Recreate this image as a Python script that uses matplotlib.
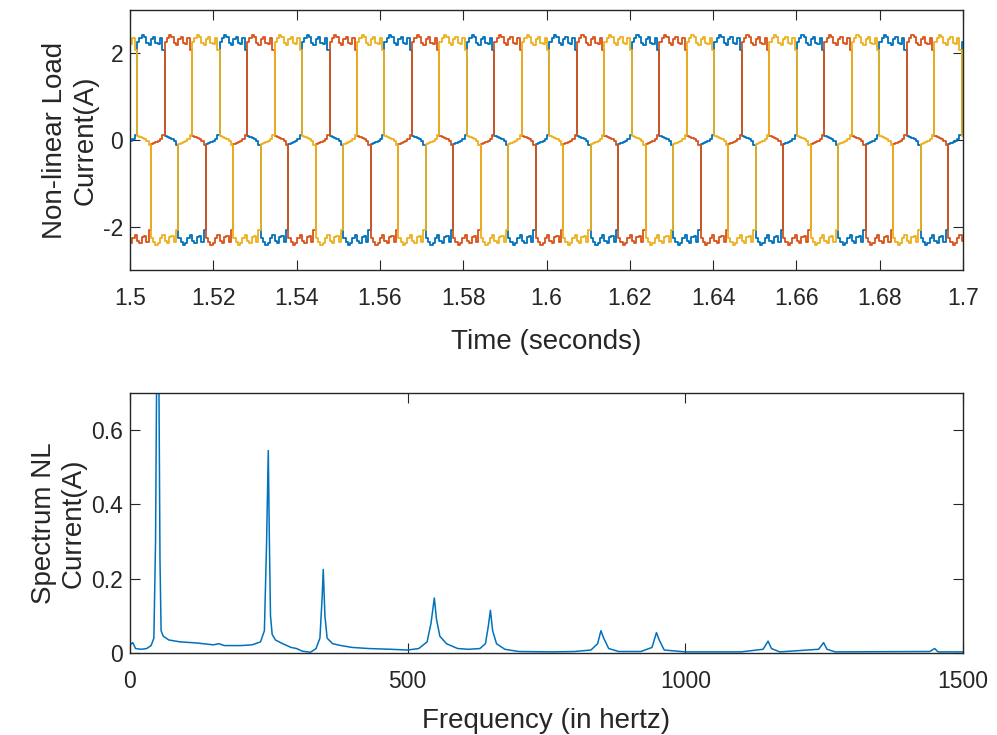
import matplotlib
matplotlib.use("Agg")
import matplotlib.pyplot as plt
import numpy as np

# ---- data -----------------------------------------------------------------
# one 50 Hz period of a phase current, one value per 10 degrees, starting at
# the rising edge of the positive conduction block
PERIOD_SHAPE = [
    2.27, 2.35, 2.42, 2.38, 2.25, 2.19, 2.32, 2.38, 2.24, 2.22, 2.36, 2.08,
    0.10, 0.08, 0.04, 0.02, -0.03, -0.12,
    -2.27, -2.35, -2.42, -2.38, -2.25, -2.19, -2.32, -2.38, -2.24, -2.22, -2.36, -2.08,
    -0.10, -0.08, -0.04, -0.02, 0.03, 0.12,
]
PERIOD_S = 0.0198            # measured spacing of the blue rising edges
FIRST_EDGE_S = 1.4819        # a blue rising edge just before the window
PHASE_LAG_STEPS = [0, 12, 24]  # blue, orange, yellow (0, 120, 240 degrees)
PHASE_COLORS = ["#0072BD", "#D95319", "#EDB120"]

SPEC_FREQ = [
    0, 5, 10, 20, 30, 38, 43, 46, 48, 50, 52, 54, 56, 60, 70, 90, 120, 150,
    160, 170, 200, 220, 235, 242, 246, 249, 251, 253, 256, 262, 275, 290,
    300, 310, 325, 335, 342, 346, 348, 351, 355, 365, 380, 400, 430, 470,
    500, 520, 535, 542, 548, 552, 558, 570, 590, 610, 630, 640, 645, 649,
    653, 660, 675, 700, 760, 800, 830, 842, 848, 853, 862, 880, 920, 940,
    948, 953, 962, 1000, 1100, 1140, 1149, 1155, 1170, 1240, 1249, 1255,
    1270, 1440, 1449, 1455, 1500,
]
SPEC_AMP = [
    0.022, 0.028, 0.012, 0.010, 0.012, 0.020, 0.040, 0.30, 0.75, 1.90, 0.75,
    0.25, 0.06, 0.045, 0.035, 0.030, 0.027, 0.022,
    0.025, 0.020, 0.020, 0.022, 0.030, 0.060, 0.30, 0.545, 0.30, 0.10,
    0.050, 0.035, 0.025, 0.015,
    0.012, 0.005, 0.002, 0.012, 0.040, 0.15, 0.225, 0.10, 0.040, 0.025,
    0.020, 0.015, 0.012, 0.010,
    0.008, 0.012, 0.030, 0.080, 0.148, 0.090, 0.045, 0.025, 0.012, 0.010,
    0.012, 0.025, 0.070, 0.115,
    0.060, 0.025, 0.010, 0.004, 0.003, 0.004, 0.008, 0.025, 0.060, 0.040,
    0.012, 0.004, 0.004, 0.015,
    0.055, 0.035, 0.008, 0.003, 0.003, 0.010, 0.032, 0.012, 0.003, 0.010,
    0.028, 0.010,
    0.003, 0.004, 0.012, 0.003, 0.003,
]

INK = "#262626"
FONT = ["Liberation Sans", "DejaVu Sans"]
TICK_FS = 16.5
LABEL_FS = 20

plt.rcParams.update({
    "font.family": FONT,
    "font.size": TICK_FS,
    "axes.unicode_minus": False,
    "axes.edgecolor": INK, "axes.labelcolor": INK,
    "xtick.color": INK, "ytick.color": INK,
    "xtick.direction": "in", "ytick.direction": "in",
    "xtick.top": True, "ytick.right": True,
    "xtick.major.size": 7, "ytick.major.size": 7,
    "xtick.major.pad": 12, "ytick.major.pad": 5,
    "axes.linewidth": 1.0,
})

fig = plt.figure(figsize=(9.97, 7.35), dpi=100)
ax1 = fig.add_axes([130 / 997, 1 - 270 / 735, 833 / 997, 260 / 735])
ax2 = fig.add_axes([130 / 997, 1 - 653 / 735, 833 / 997, 260 / 735])

# ---- top: three phase currents, the measured period repeated -------------
n_per = len(PERIOD_SHAPE)
dt = PERIOD_S / n_per
n_steps = int(np.ceil((1.72 - FIRST_EDGE_S) / dt))
t = FIRST_EDGE_S + dt * np.arange(n_steps)
shape = np.asarray(PERIOD_SHAPE)
for lag, col in zip(PHASE_LAG_STEPS, PHASE_COLORS):
    idx = (np.arange(n_steps) - lag) % n_per
    ax1.plot(t, shape[idx], color=col, lw=1.3, drawstyle="steps-post")

xt = np.round(np.arange(1.5, 1.7001, 0.02), 2)
ax1.set_xlim(1.5, 1.7)
ax1.set_ylim(-3, 3)
ax1.set_xticks(xt)
ax1.set_xticklabels([f"{v:g}" for v in xt])
ax1.set_yticks([-2, 0, 2])
ax1.set_xlabel("Time (seconds)", fontsize=LABEL_FS)
ax1.set_ylabel("Non-linear Load\nCurrent(A)", fontsize=LABEL_FS)
ax1.xaxis.set_label_coords(0.5, -0.228)
ax1.yaxis.set_label_coords(-0.038, 0.5)

# ---- bottom: spectrum ------------------------------------------------------
ax2.plot(SPEC_FREQ, SPEC_AMP, color="#0072BD", lw=1.1)
ax2.set_xlim(0, 1500)
ax2.set_ylim(0, 0.7)
ax2.set_xticks([0, 500, 1000, 1500])
ax2.set_yticks([0, 0.2, 0.4, 0.6])
ax2.set_yticklabels(["0", "0.2", "0.4", "0.6"])
ax2.set_xlabel("Frequency (in hertz)", fontsize=LABEL_FS)
ax2.set_ylabel("Spectrum NL\nCurrent(A)", fontsize=LABEL_FS)
ax2.xaxis.set_label_coords(0.5, -0.21)
ax2.yaxis.set_label_coords(-0.052, 0.5)

fig.savefig("out.png", dpi=100)
